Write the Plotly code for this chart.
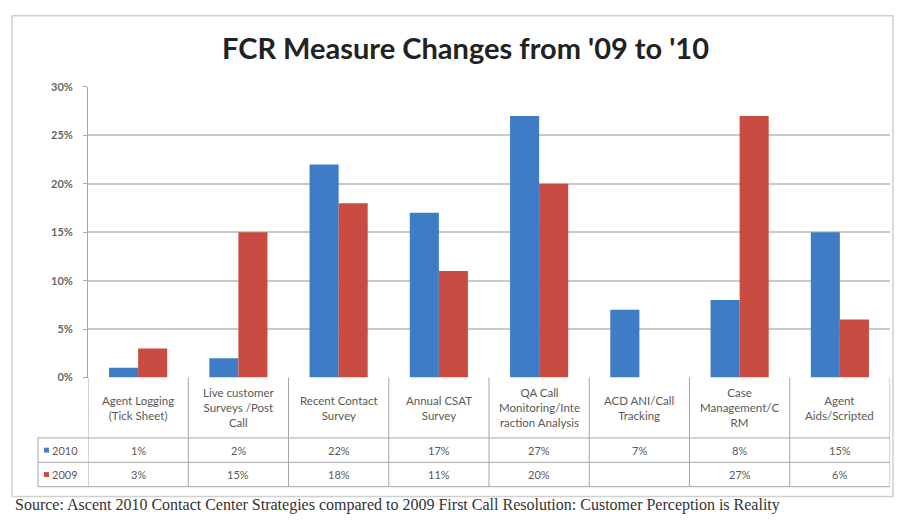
import plotly.graph_objects as go

categories = ["Agent Logging<br>(Tick Sheet)", "Live customer<br>Surveys /Post<br>Call",
              "Recent Contact<br>Survey", "Annual CSAT<br>Survey",
              "QA Call<br>Monitoring/Inte<br>raction Analysis", "ACD ANI/Call<br>Tracking",
              "Case<br>Management/C<br>RM", "Agent<br>Aids/Scripted"]
series_names = ["2010", "2009"]
values_2010 = [1, 2, 22, 17, 27, 7, 8, 15]
values_2009 = [3, 15, 18, 11, 20, None, 27, 6]
y_ticks = [0, 5, 10, 15, 20, 25, 30]
title_text = "FCR Measure Changes from '09 to '10"
source_text = ("Source: Ascent 2010 Contact Center Strategies compared to 2009 First Call "
               "Resolution: Customer Perception is Reality")

BLUE = "#3E7DC5"
RED = "#C84C42"
GRID = "#C9C9C9"
LINE = "#A6A6A6"
TXT = "#595959"
FONT = "Lato"

W, H = 900, 520
def py(p):
    return 1 - p / H
def px(p):
    return p / W

x_left, x_right = 88, 890
y_zero, y_top = 380, 82
row1, row2, row3 = 442, 467, 492
n = len(categories)
xs = list(range(n))

fig = go.Figure()
fig.add_trace(go.Bar(x=xs, y=values_2010, name=series_names[0], marker_color=BLUE,
                     marker_line_width=0))
fig.add_trace(go.Bar(x=xs, y=values_2009, name=series_names[1], marker_color=RED,
                     marker_line_width=0))

shapes = []
annotations = []
# outer frame
shapes.append(dict(type="rect", xref="paper", yref="paper", x0=px(12), x1=px(893),
                   y0=py(502), y1=py(9), line=dict(color="#D0D0D0", width=1.5)))
# table horizontal lines
for yy in (row1, row2, row3):
    shapes.append(dict(type="line", xref="paper", yref="paper", x0=px(38), x1=px(x_right),
                       y0=py(yy), y1=py(yy), line=dict(color=LINE, width=1)))
shapes.append(dict(type="line", xref="paper", yref="paper", x0=px(38), x1=px(38),
                   y0=py(row1), y1=py(row3), line=dict(color=LINE, width=1)))
# vertical category dividers (x axis coords)
for k in range(n + 1):
    shapes.append(dict(type="line", xref="x", yref="paper", x0=k - 0.5, x1=k - 0.5,
                       y0=py(y_zero), y1=py(row3), line=dict(color=LINE, width=1)))

# category labels
for i, c in enumerate(categories):
    annotations.append(dict(x=i, y=py((y_zero + row1) / 2), xref="x", yref="paper",
                            text=c, showarrow=False, font=dict(size=11.5, color=TXT, family=FONT),
                            align="center", xanchor="center", yanchor="middle"))
# table values
for vals, yy in ((values_2010, (row1 + row2) / 2), (values_2009, (row2 + row3) / 2)):
    for i, v in enumerate(vals):
        if v is None:
            continue
        annotations.append(dict(x=i, y=py(yy), xref="x", yref="paper", text=f"{v}%",
                                showarrow=False, font=dict(size=11, color=TXT, family=FONT),
                                xanchor="center", yanchor="middle"))
# legend keys
for name, col, yy in ((series_names[0], BLUE, (row1 + row2) / 2),
                      (series_names[1], RED, (row2 + row3) / 2)):
    shapes.append(dict(type="rect", xref="paper", yref="paper", x0=px(44), x1=px(49),
                       y0=py(yy + 2.5), y1=py(yy - 2.5), fillcolor=col, line=dict(width=0)))
    annotations.append(dict(x=px(50), y=py(yy), xref="paper", yref="paper", text=name,
                            showarrow=False, font=dict(size=11, color=TXT, family=FONT),
                            xanchor="left", yanchor="middle"))
# title
annotations.append(dict(x=px(465), y=py(42), xref="paper", yref="paper", text=f"<b>{title_text}</b>",
                        showarrow=False, font=dict(size=29, color="#222222", family=FONT),
                        xanchor="center", yanchor="middle"))
# source
annotations.append(dict(x=px(13), y=py(511), xref="paper", yref="paper", text=source_text,
                        showarrow=False, font=dict(size=16, color="#333333", family="Liberation Serif"),
                        xanchor="left", yanchor="middle"))

fig.update_layout(
    width=W, height=H, margin=dict(l=0, r=0, t=0, b=0),
    paper_bgcolor="white", plot_bgcolor="white",
    barmode="group", bargap=0.42, bargroupgap=0,
    showlegend=False, shapes=shapes, annotations=annotations,
    xaxis=dict(domain=[px(x_left), px(x_right)], range=[-0.5, n - 0.5],
               showticklabels=False, showgrid=False, zeroline=False, showline=False,
               fixedrange=True),
    yaxis=dict(domain=[py(y_zero), py(y_top)], range=[0, 30], tickvals=y_ticks,
               ticktext=[f"<b>{t}%</b>" for t in y_ticks], showgrid=True, gridcolor=GRID,
               gridwidth=1.5, zeroline=False, showline=True, linecolor=LINE,
               ticks="outside", ticklen=4, tickcolor=LINE, ticklabelstandoff=8,
               tickfont=dict(size=11, color="#666666", family=FONT), fixedrange=True),
)

fig.write_html("out.html", config={"displayModeBar": False},
               post_script="document.body.style.margin='0';document.body.style.overflow='hidden';")
